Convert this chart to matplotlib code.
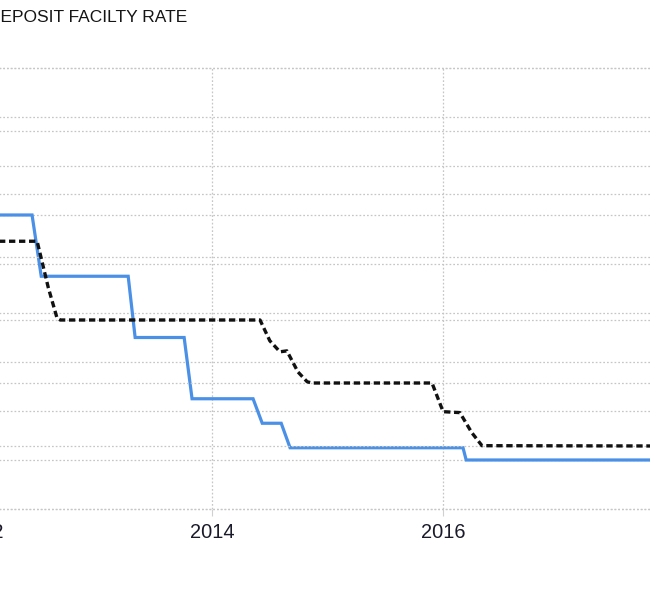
import matplotlib
matplotlib.use("Agg")
import matplotlib.pyplot as plt
import pandas as pd

# ---- data ----
title_text = "DEPOSIT FACILTY RATE"
tick_years = ["2012-01-01", "2014-01-01", "2016-01-01"]
tick_labels = ["2012", "2014", "2016"]

blue_dates = ["2012-02-20", "2012-06-10", "2012-07-09", "2013-04-10", "2013-05-02",
              "2013-10-04", "2013-10-29", "2014-05-10", "2014-06-08", "2014-08-07",
              "2014-09-04", "2016-03-04", "2016-03-14", "2017-12-01"]
blue_vals = [1.0, 1.0, 0.75, 0.75, 0.5, 0.5, 0.25, 0.25, 0.15, 0.15,
             0.05, 0.05, 0.0, 0.0]

black_dates = ["2012-02-20", "2012-06-26", "2012-07-31", "2012-08-28", "2012-09-07",
               "2014-06-01", "2014-07-02", "2014-08-03", "2014-08-25", "2014-09-29",
               "2014-10-28", "2014-11-12", "2015-11-27", "2016-01-01", "2016-02-23",
               "2016-04-01", "2016-05-03", "2017-12-01"]
black_vals = [0.25, 0.25, 0.104, 0.006, 0.0,
              0.0, -0.066, -0.101, -0.098, -0.165,
              -0.196, -0.2, -0.2, -0.291, -0.294,
              -0.358, -0.399, -0.4]

blue_ticks = [-0.2, 0.0, 0.2, 0.4, 0.6, 0.8, 1.0, 1.2, 1.4, 1.6]
black_ticks = [-0.6, -0.4, -0.2, 0.0, 0.2, 0.4, 0.6, 0.8]

# ---- figure ----
W, H = 650, 600
fig = plt.figure(figsize=(W / 100, H / 100), dpi=100)
fig.patch.set_facecolor("white")

left_px, right_px = -65, 715
top_px, bottom_px = 68, 509
ax = fig.add_axes([left_px / W, 1 - bottom_px / H,
                   (right_px - left_px) / W, (bottom_px - top_px) / H])
ax2 = ax.twinx()

grid_kw = dict(color="#c6c6c6", linewidth=0.9, linestyle=(0, (1.4, 1.6)))

bd = pd.to_datetime(blue_dates)
kd = pd.to_datetime(black_dates)

ax.plot(bd, blue_vals, color="#4a90e6", linewidth=2.3, solid_joinstyle="miter",
        zorder=3)
ax2.plot(kd, black_vals, color="#111111", linewidth=2.4,
         linestyle=(0, (1.9, 1.1)), dash_capstyle="butt", zorder=4)

ax.set_xlim(pd.Timestamp("2011-08-08"), pd.Timestamp("2018-05-10"))
ax.set_ylim(blue_ticks[0], blue_ticks[-1])
ax2.set_ylim(black_ticks[0], black_ticks[-1])

ax.set_yticks(blue_ticks)
ax2.set_yticks(black_ticks)
ax.yaxis.grid(True, **grid_kw)
ax2.yaxis.grid(True, **grid_kw)
ax.set_xticks(pd.to_datetime(tick_years))
ax.set_xticklabels(tick_labels)
ax.xaxis.grid(True, **grid_kw)

for a in (ax, ax2):
    for s in a.spines.values():
        s.set_visible(False)
    a.tick_params(axis="y", left=False, right=False, labelleft=False,
                  labelright=False)
    a.set_facecolor("none")
    for gl in a.get_ygridlines():
        gl.set_clip_on(False)

ax.tick_params(axis="x", length=5, width=0.8, color="#d0d0d0", pad=5,
               labelsize=14.4, labelcolor="#1a1a2a")
for lbl in ax.get_xticklabels():
    lbl.set_fontfamily(["Liberation Sans", "DejaVu Sans"])

fig.text(-12.5 / W, 1 - 22 / H, title_text, fontsize=12.5,
         family=["Liberation Sans", "DejaVu Sans"], color="#151515",
         ha="left", va="baseline")

fig.savefig("out.png", dpi=100, facecolor="white")
